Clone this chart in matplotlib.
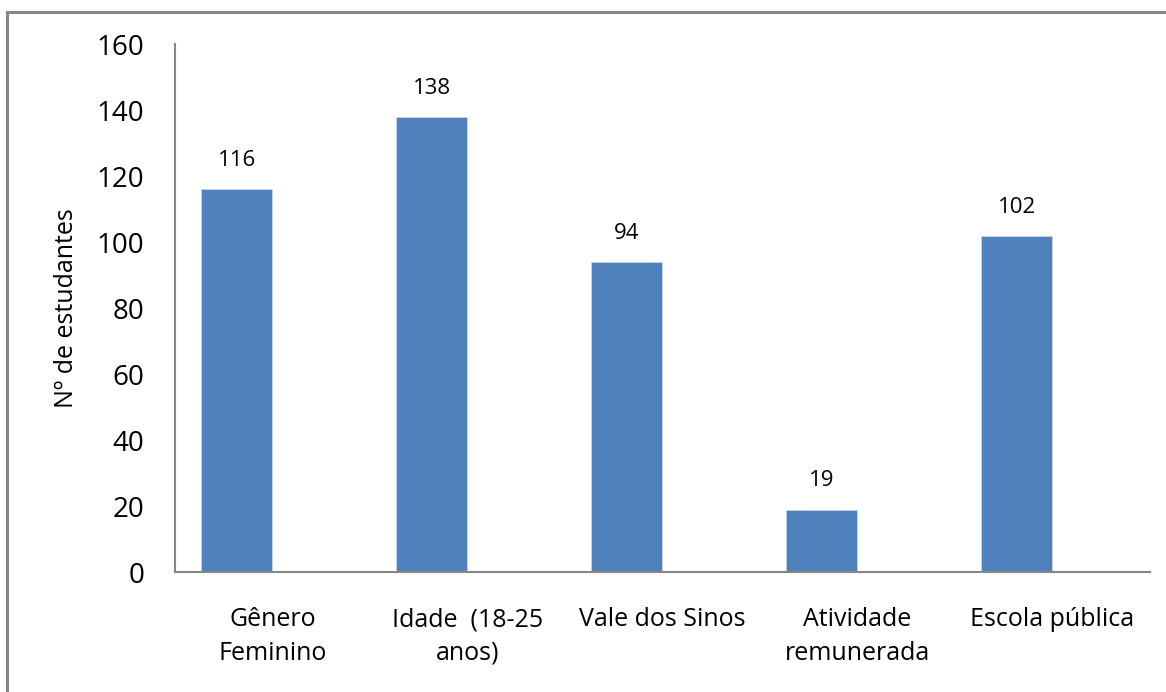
import matplotlib
matplotlib.use('Agg')
import matplotlib.pyplot as plt
from matplotlib.lines import Line2D

# Data
categories = ["Gênero\nFeminino", "Idade  (18-25\nanos)", "Vale dos Sinos",
              "Atividade\nremunerada", "Escola pública"]
students = [116, 138, 94, 19, 102]
y_ticks = [0, 20, 40, 60, 80, 100, 120, 140, 160]

plt.rcParams['font.family'] = ['Open Sans', 'DejaVu Sans']

fig = plt.figure(figsize=(11.66, 6.92), dpi=100)
ax = fig.add_axes([0.150, 0.173, 0.836, 0.763])

x = list(range(len(categories)))
bar_w = 0.365
# bars sit to the left of the category centre (clustered layout with one series)
ax.bar([xi - bar_w for xi in x], students, width=bar_w, align='edge',
       color='#4f81bd', edgecolor='#c8d6ea', linewidth=0.6)

# value labels above the bars
for xi, v in zip(x, students):
    ax.text(xi - bar_w / 2, v + 5.5, str(v), ha='center', va='bottom', fontsize=16)

ax.set_xlim(-0.5, len(categories) - 0.5)
ax.set_ylim(0, 160)
ax.set_yticks(y_ticks)
ax.set_yticklabels([str(t) for t in y_ticks], fontsize=20)
ax.set_xticks(x)
ax.set_xticklabels(categories, fontsize=18, linespacing=1.45)
ax.tick_params(axis='both', length=0)
ax.tick_params(axis='y', pad=22)
ax.tick_params(axis='x', pad=25)

ax.set_ylabel("Nº de estudantes", fontsize=18, labelpad=13)

for side in ['top', 'right']:
    ax.spines[side].set_visible(False)
for side in ['left', 'bottom']:
    ax.spines[side].set_color('#868686')
    ax.spines[side].set_linewidth(1.5)

# outer chart border (only top and left edges are visible)
fig.add_artist(Line2D([0.006, 1.0], [0.983, 0.983], color='#868686', linewidth=2.2,
                      transform=fig.transFigure))
fig.add_artist(Line2D([0.006, 0.006], [0.0, 0.983], color='#868686', linewidth=2.2,
                      transform=fig.transFigure))

fig.savefig('out.png', dpi=100)
